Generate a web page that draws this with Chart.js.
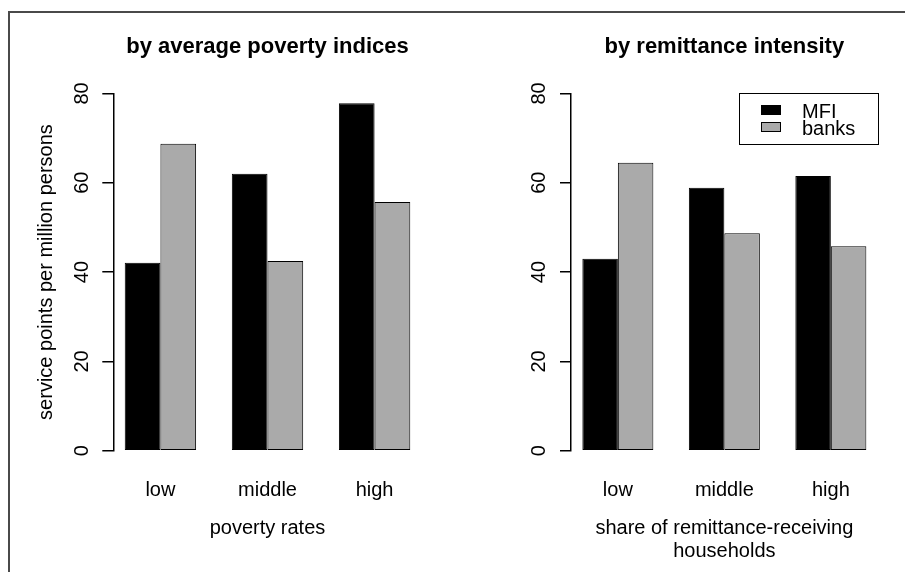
<!DOCTYPE html>
<html>
<head>
<meta charset="utf-8">
<script src="https://cdn.jsdelivr.net/npm/chart.js@4.4.1/dist/chart.umd.min.js"></script>
<style>
  body { margin: 0; background: #fff; }
  #wrap { position: relative; width: 905px; height: 572px; overflow: hidden; }
  #frame { position: absolute; left: 8px; top: 11px; right: -10px; bottom: -10px;
           border-top: 2px solid #4a4a4a; border-left: 2px solid #4a4a4a; }
  canvas { position: absolute; top: 0; }
</style>
</head>
<body>
<div id="wrap">
  <div id="frame"></div>
  <canvas id="left" width="452" height="572" style="left:0"></canvas>
  <canvas id="right" width="453" height="572" style="left:452px"></canvas>
</div>
<script>
const categories = ["low", "middle", "high"];
const seriesNames = ["MFI", "banks"];
const seriesColors = ["#000000", "#aaaaaa"];
const yTicks = [0, 20, 40, 60, 80];

// by average poverty indices
const povertyMFI = [42.1, 62.0, 77.8];
const povertyBanks = [68.7, 42.5, 55.7];

// by remittance intensity
const remitMFI = [43.0, 58.9, 61.5];
const remitBanks = [64.5, 48.7, 45.8];

const FONT = '"Liberation Sans", Arial, Helvetica, sans-serif';
Chart.defaults.font.family = FONT;
Chart.defaults.color = "#000";

// R-style legend box in the top right corner of the plot area
const boxLegend = {
  id: "boxLegend",
  afterDraw(chart, args, o) {
    if (!o.show) return;
    const { ctx, chartArea } = chart;
    const w = 139, h = 51;
    const x = Math.round(chartArea.right - w), y = Math.round(chartArea.top);
    ctx.save();
    ctx.strokeStyle = "#000";
    ctx.lineWidth = 1;
    ctx.strokeRect(x + 0.5, y + 0.5, w, h);
    ctx.font = "20px " + FONT;
    ctx.textBaseline = "middle";
    chart.data.datasets.forEach((ds, i) => {
      const cy = y + 17 + i * 17;
      ctx.fillStyle = ds.backgroundColor;
      ctx.fillRect(x + 22, cy - 4.5, 19, 9);
      ctx.strokeRect(x + 22.5, cy - 4.5, 19, 9);
      ctx.fillStyle = "#000";
      ctx.fillText(ds.label, x + 63, cy + 2);
    });
    ctx.restore();
  }
};

function makeChart(id, title, xTitle, mfi, banks, cfg) {
  // R barplot: groups of 2 bars, gap of 1 bar, range widened by 4%
  const span = categories.length - 1 + 2 / 3;
  const xMin = -1 / 3 - 0.04 * span;
  const xMax = categories.length - 1 + 1 / 3 + 0.04 * span;
  const series = [mfi, banks];

  return new Chart(document.getElementById(id), {
    type: "bar",
    data: {
      datasets: series.map((vals, s) => ({
        label: seriesNames[s],
        data: vals.map((v, i) => ({ x: i, y: v })),
        backgroundColor: seriesColors[s],
        borderColor: "#000",
        borderWidth: 1,
        borderSkipped: false,
        categoryPercentage: 2 / 3,
        barPercentage: 1
      }))
    },
    options: {
      responsive: false,
      animation: false,
      layout: { padding: { left: 0, right: cfg.padRight, top: 0, bottom: 0 } },
      plugins: {
        legend: { display: false },
        tooltip: { enabled: false },
        title: {
          display: true,
          text: title,
          fullSize: false,
          font: { size: 22, weight: "bold", lineHeight: 1.2 },
          color: "#000",
          padding: { top: 34, bottom: 33 }
        },
        boxLegend: { show: cfg.legend }
      },
      scales: {
        x: {
          type: "linear",
          min: xMin,
          max: xMax,
          offset: false,
          afterBuildTicks: s => { s.ticks = categories.map((c, i) => ({ value: i })); },
          ticks: {
            callback: v => categories[v],
            autoSkip: false,
            maxRotation: 0,
            padding: 28,
            font: { size: 20 },
            color: "#000"
          },
          grid: { display: false, drawTicks: false, offset: false },
          border: { display: false },
          title: {
            display: true,
            text: xTitle,
            font: { size: 20, lineHeight: 1.15 },
            color: "#000",
            padding: { top: 0, bottom: cfg.xTitlePad }
          },
          afterFit: s => { s.height = 121.3; }
        },
        y: {
          min: yTicks[0],
          max: yTicks[yTicks.length - 1],
          afterBuildTicks: s => { s.ticks = yTicks.map(v => ({ value: v })); },
          ticks: {
            minRotation: 90,
            maxRotation: 90,
            crossAlign: "center",
            padding: 9,
            font: { size: 20 },
            color: "#000"
          },
          grid: { drawOnChartArea: false, drawTicks: true, tickLength: 11, color: "#000", lineWidth: 1.5 },
          border: { display: true, color: "#000", width: 1.5 },
          title: {
            display: cfg.yTitle,
            text: "service points per million persons",
            font: { size: 20, lineHeight: 1.2 },
            color: "#000",
            padding: { top: 34, bottom: 0 }
          },
          afterFit: s => { s.width = cfg.yWidth; }
        }
      }
    },
    plugins: [boxLegend]
  });
}

makeChart("left", "by average poverty indices", "poverty rates",
  povertyMFI, povertyBanks,
  { padRight: 30.3, yWidth: 113.3, yTitle: true, legend: false, xTitlePad: 32.5 });

makeChart("right", "by remittance intensity",
  ["share of remittance-receiving", "households"],
  remitMFI, remitBanks,
  { padRight: 27.3, yWidth: 119, yTitle: false, legend: true, xTitlePad: 9.5 });
</script>
</body>
</html>
